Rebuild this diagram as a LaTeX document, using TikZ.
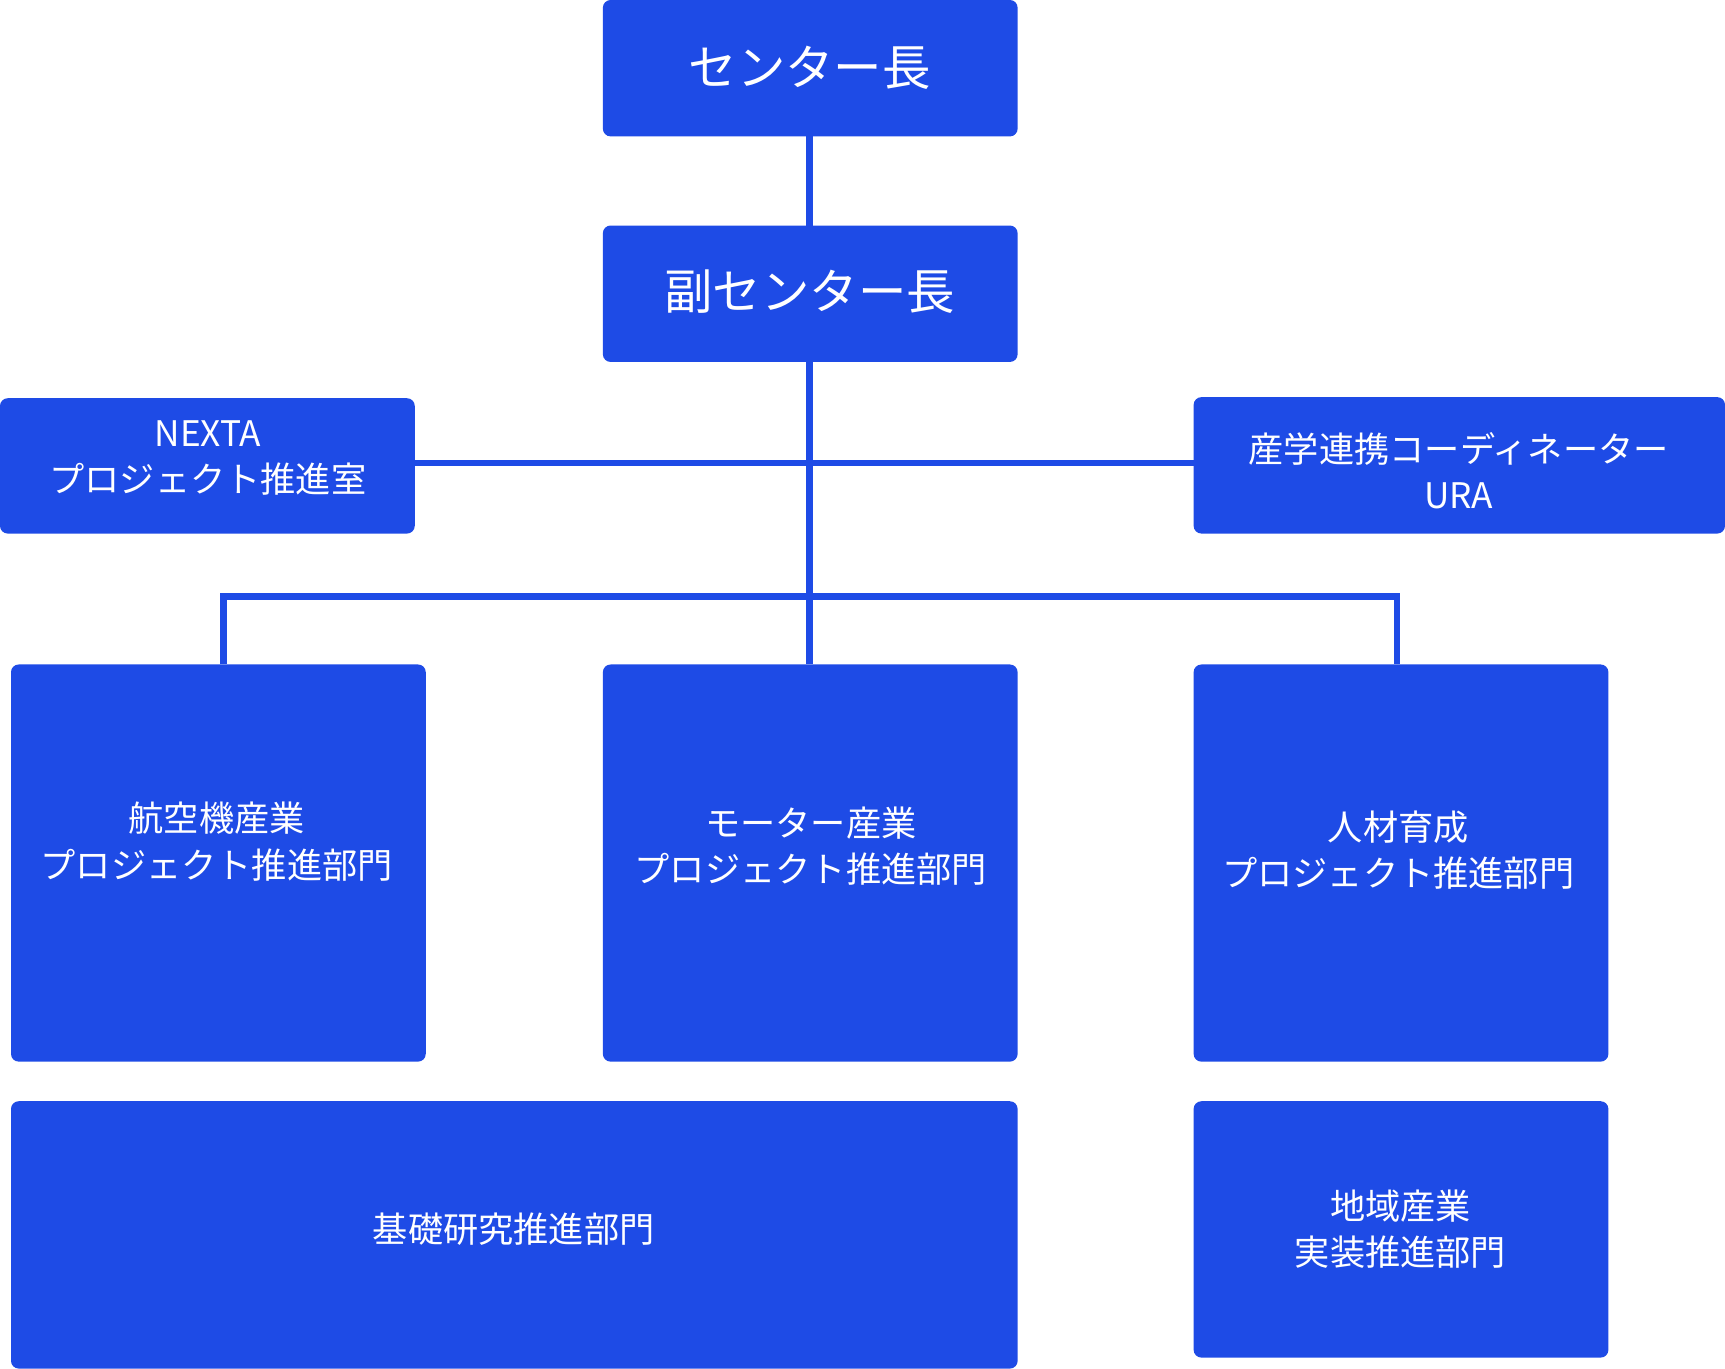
\documentclass[tikz,border=0pt]{standalone}
\usepackage{fontspec}
\setmainfont{Noto Sans CJK JP}
\definecolor{org}{HTML}{1E4BE6}
\begin{document}
\begin{tikzpicture}[x=1pt,y=-1pt,
  box/.style={fill=org,rounded corners=7pt,text=white,align=center,font=\fontsize{32}{42}\selectfont},
  big/.style={font=\fontsize{44}{52}\selectfont},
  conn/.style={draw=org,line width=6pt}]
\useasboundingbox (0,0) rectangle (1568,1244);
\newcommand\bx[6]{\path[box,#6] (#1,#2) rectangle (#3,#4); \node[box,#6,fill=none] (#5) at ({(#1+#3)/2},{(#2+#4)/2}) {};}
\fill[org,rounded corners=7pt] (548,0) rectangle (925,124);
\node[text=white,font=\fontsize{44}{52}\selectfont] (head) at (736,62) {センター長};
\fill[org,rounded corners=7pt] (548,205) rectangle (925,329);
\node[text=white,font=\fontsize{44}{52}\selectfont] (vice) at (736,265) {副センター長};
\fill[org,rounded corners=7pt] (0,362) rectangle (377,485);
\node[box,fill=none] (nexta) at (189,416) {NEXTA\\プロジェクト推進室};
\fill[org,rounded corners=7pt] (1085,361) rectangle (1568,485);
\node[box,fill=none] (ura) at (1326,428) {産学連携コーディネーター\\URA};
\fill[org,rounded corners=7pt] (10,604) rectangle (387,965);
\node[box,fill=none] (kokuki) at (197,765) {航空機産業\\プロジェクト推進部門};
\fill[org,rounded corners=7pt] (548,604) rectangle (925,965);
\node[box,fill=none] (motor) at (737,769) {モーター産業\\プロジェクト推進部門};
\fill[org,rounded corners=7pt] (1085,604) rectangle (1462,965);
\node[box,fill=none] (jinzai) at (1271,773) {人材育成\\プロジェクト推進部門};
\fill[org,rounded corners=7pt] (10,1001) rectangle (925,1244);
\node[box,fill=none] (kiso) at (467,1117) {基礎研究推進部門};
\fill[org,rounded corners=7pt] (1085,1001) rectangle (1462,1234);
\node[box,fill=none] (chiiki) at (1273,1117) {地域産業\\実装推進部門};
\coordinate (hA) at (736,124);
\coordinate (hB) at (736,205);
\coordinate (vB) at (736,329);
\coordinate (mT) at (736,604);
\coordinate (nR) at (377,421);
\coordinate (uL) at (1085,421);
\coordinate (jn) at (736,542);
\draw[conn] (hA) -- (hB);
\draw[conn] (vB) -- (mT);
\draw[conn] (nR) -- (uL);
\draw[conn] (203,604) -- (203,542) -- (1270,542) -- (1270,604);
\end{tikzpicture}
\end{document}
